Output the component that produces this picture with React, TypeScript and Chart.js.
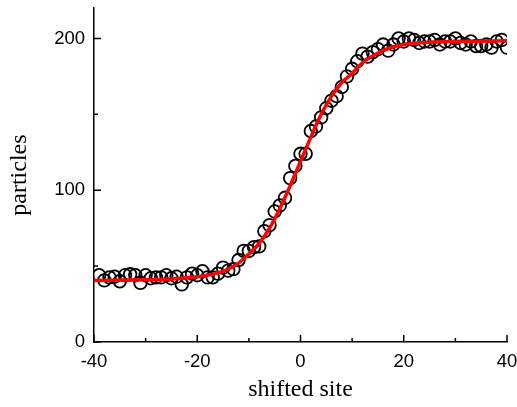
import React, { useEffect, useRef } from "react";
import { Chart, registerables } from "chart.js";

Chart.register(...registerables);

// Measured data points (shifted site, particles)
const siteX: number[] = [
  -39, -38, -37, -36, -35, -34, -33, -32, -31, -30,
  -29, -28, -27, -26, -25, -24, -23, -22, -21, -20,
  -19, -18, -17, -16, -15, -14, -13, -12, -11, -10,
  -9, -8, -7, -6, -5, -4, -3, -2, -1, 0,
  1, 2, 3, 4, 5, 6, 7, 8, 9, 10,
  11, 12, 13, 14, 15, 16, 17, 18, 19, 20,
  21, 22, 23, 24, 25, 26, 27, 28, 29, 30,
  31, 32, 33, 34, 35, 36, 37, 38, 39, 40,
];
const particles: number[] = [
  44, 40.6, 42.6, 43, 40, 44, 44.6, 44, 39, 44,
  42, 42.6, 42.6, 44, 42, 43, 38, 42.6, 45, 44,
  46.6, 42.6, 42.6, 45, 49, 47, 48, 54, 60, 60,
  62.5, 63, 73, 77, 86, 90, 95, 108, 116, 124,
  124, 139, 142, 148, 154, 159, 162, 168, 175, 180,
  185, 190, 188, 191, 193, 196, 192, 196, 200, 198,
  200, 199, 197, 198, 198, 199, 196, 198, 198, 200,
  197, 196, 198, 195, 195, 196, 194, 198, 199, 194,
];

// Fitted curve
const fitX: number[] = [-40, -30, -25, -20, -18, -16, -14, -12, -10, -8, -6, -4, -2, 0, 2, 4, 6, 8, 10, 12, 14, 16, 18, 20, 25, 30, 40];
const fitY: number[] = [40.5, 41, 41.5, 43, 44, 45.5, 48, 52, 58, 65, 75, 88, 103, 119, 135, 150, 162, 171, 177, 184, 188.5, 192, 194.5, 196, 197.5, 198, 198.5];

const xMajorTicks: number[] = [-40, -20, 0, 20, 40];
const xMinorTicks: number[] = [-30, -10, 10, 30];
const yMajorTicks: number[] = [0, 100, 200];
const yMinorTicks: number[] = [50, 150];

const inwardTicks = {
  id: "inwardTicks",
  afterDatasetsDraw(chart: any) {
    const { ctx, chartArea, scales } = chart;
    const xs = scales.x;
    const ys = scales.y;
    ctx.save();
    ctx.strokeStyle = "#000";
    ctx.lineWidth = 1.5;
    ctx.beginPath();
    const drawX = (v: number, len: number) => {
      const px = xs.getPixelForValue(v);
      ctx.moveTo(px, chartArea.bottom);
      ctx.lineTo(px, chartArea.bottom - len);
    };
    const drawY = (v: number, len: number) => {
      const py = ys.getPixelForValue(v);
      ctx.moveTo(chartArea.left, py);
      ctx.lineTo(chartArea.left + len, py);
    };
    xMajorTicks.forEach((v) => drawX(v, 7));
    xMinorTicks.forEach((v) => drawX(v, 4));
    yMajorTicks.forEach((v) => drawY(v, 7));
    yMinorTicks.forEach((v) => drawY(v, 4));
    ctx.stroke();
    ctx.restore();
  },
};

const zeroPad = (s: any) => {
  s.paddingTop = 0;
  s.paddingBottom = 0;
  s.paddingLeft = 0;
  s.paddingRight = 0;
};

export default function App() {
  const ref = useRef<HTMLCanvasElement | null>(null);

  useEffect(() => {
    document.body.style.margin = "0";
    if (!ref.current) return;
    const chart = new Chart(ref.current, {
      type: "scatter",
      data: {
        datasets: [
          {
            label: "fit",
            data: fitX.map((x, i) => ({ x, y: fitY[i] })),
            showLine: true,
            borderColor: "#ff0000",
            borderWidth: 3.5,
            pointRadius: 0,
            tension: 0.4,
            cubicInterpolationMode: "monotone",
            order: 0,
          },
          {
            label: "data",
            data: siteX.map((x, i) => ({ x, y: particles[i] })),
            showLine: false,
            pointRadius: 6.3,
            pointBorderWidth: 1.8,
            pointBorderColor: "#000",
            pointBackgroundColor: "rgba(255,255,255,0)",
            order: 1,
          },
        ],
      },
      options: {
        animation: false,
        responsive: false,
        maintainAspectRatio: false,
        layout: { padding: { top: 7, right: 10, left: 0, bottom: 0 } },
        plugins: {
          legend: { display: false },
          tooltip: { enabled: false },
        },
        scales: {
          x: {
            type: "linear",
            min: -40,
            max: 40,
            afterBuildTicks: (s: any) => {
              s.ticks = xMajorTicks.map((v) => ({ value: v }));
            },
            afterFit: (s: any) => {
              s.height = 65;
              zeroPad(s);
            },
            grid: { display: false, drawTicks: false },
            border: { display: true, color: "#000", width: 1.5 },
            ticks: {
              color: "#000",
              padding: 9,
              maxRotation: 0,
              font: { family: "'Liberation Sans', Arial, sans-serif", size: 18.5 },
            },
            title: {
              display: true,
              text: "shifted site",
              color: "#000",
              padding: { top: 0, bottom: 3 },
              font: { family: "'Liberation Serif', 'Times New Roman', serif", size: 24 },
            },
          },
          y: {
            type: "linear",
            min: 0,
            max: 220,
            afterBuildTicks: (s: any) => {
              s.ticks = yMajorTicks.map((v) => ({ value: v }));
            },
            afterFit: (s: any) => {
              s.width = 94;
              zeroPad(s);
            },
            grid: { display: false, drawTicks: false },
            border: { display: true, color: "#000", width: 1.5 },
            ticks: {
              color: "#000",
              padding: 9,
              font: { family: "'Liberation Sans', Arial, sans-serif", size: 18.5 },
            },
            title: {
              display: true,
              text: "particles",
              color: "#000",
              padding: { top: 5, bottom: 0 },
              font: { family: "'Liberation Serif', 'Times New Roman', serif", size: 24 },
            },
          },
        },
      },
      plugins: [inwardTicks],
    } as any);
    return () => chart.destroy();
  }, []);

  return <canvas ref={ref} width={517} height={407} style={{ display: "block", width: 517, height: 407 }} />;
}
